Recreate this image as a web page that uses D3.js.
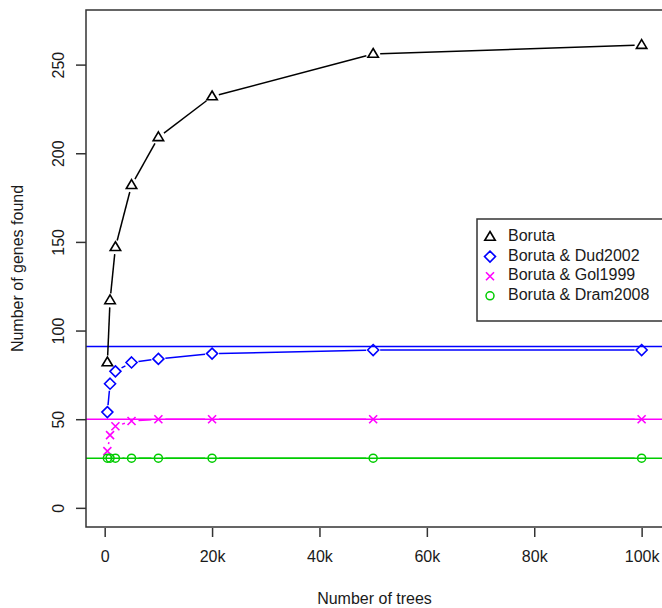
<!DOCTYPE html>
<html>
<head>
<meta charset="utf-8">
<script src="https://cdn.jsdelivr.net/npm/d3@7"></script>
<style>
  body { margin: 0; background: #fff; }
  text { font-family: "Liberation Sans", Arial, sans-serif; fill: #1a1a1a; }
</style>
</head>
<body>
<div id="chart"></div>
<script>
var width = 662;
var height = 608;

// number of trees used in each run
var trees = [500, 1000, 2000, 5000, 10000, 20000, 50000, 100000];

var boruta   = [82, 117, 147, 182, 209, 232, 256, 261];
var dud2002  = [54, 70, 77, 82, 84, 87, 89, 89];
var gol1999  = [32, 41, 46, 49, 50, 50, 50, 50];
var dram2008 = [28, 28, 28, 28, 28, 28, 28, 28];

// reference counts (abline)
var refLines = [91, 50, 28];

var xTicks = [0, 20000, 40000, 60000, 80000, 100000];
var xTickLabels = ["0", "20k", "40k", "60k", "80k", "100k"];
var yTicks = [0, 50, 100, 150, 200, 250];

var seriesNames = ["Boruta", "Boruta & Dud2002", "Boruta & Gol1999", "Boruta & Dram2008"];
var seriesColors = ["#000000", "#0000ff", "#ff00ff", "#00cc00"];
var seriesShapes = ["triangle", "diamond", "cross", "circle"];
var seriesValues = [boruta, dud2002, gol1999, dram2008];

var plot = { left: 86, right: 663, top: 10, bottom: 527 };

var x = d3.scaleLinear()
  .domain([500 - 0.04 * 99500, 100000 + 0.04 * 99500])
  .range([plot.left, plot.right]);

var y = d3.scaleLinear()
  .domain([-10.8, 280.8])
  .range([plot.bottom, plot.top]);

var svg = d3.select("#chart")
  .append("svg")
  .attr("width", width)
  .attr("height", height)
  .style("display", "block");

svg.append("defs").append("clipPath")
  .attr("id", "clip")
  .append("rect")
  .attr("x", plot.left)
  .attr("y", plot.top)
  .attr("width", plot.right - plot.left)
  .attr("height", plot.bottom - plot.top);

// draw a marker of a given shape
function marker(g, shape, cx, cy, color) {
  if (shape == "triangle") {
    var r = 5.5;
    g.append("path")
      .attr("d", `M${cx},${cy - r} L${cx + r * 0.95},${cy + r * 0.6} L${cx - r * 0.95},${cy + r * 0.6} Z`)
      .attr("fill", "none").attr("stroke", color).attr("stroke-width", 1.6);
  } else if (shape == "diamond") {
    var r = 5.5;
    g.append("path")
      .attr("d", `M${cx},${cy - r} L${cx + r},${cy} L${cx},${cy + r} L${cx - r},${cy} Z`)
      .attr("fill", "none").attr("stroke", color).attr("stroke-width", 1.6);
  } else if (shape == "cross") {
    var r = 4;
    g.append("path")
      .attr("d", `M${cx - r},${cy - r} L${cx + r},${cy + r} M${cx - r},${cy + r} L${cx + r},${cy - r}`)
      .attr("fill", "none").attr("stroke", color).attr("stroke-width", 1.6);
  } else {
    g.append("circle")
      .attr("cx", cx).attr("cy", cy).attr("r", 4)
      .attr("fill", "none").attr("stroke", color).attr("stroke-width", 1.5);
  }
}

var clipped = svg.append("g").attr("clip-path", "url(#clip)");

// horizontal reference lines
clipped.selectAll(".ref")
  .data(refLines)
  .enter()
  .append("line")
  .attr("class", "ref")
  .attr("x1", plot.left)
  .attr("x2", plot.right)
  .attr("y1", d => y(d))
  .attr("y2", d => y(d))
  .attr("stroke", (d, i) => seriesColors[i + 1])
  .attr("stroke-width", 1.5);

// type="b" style: segments with gaps around the points
var gap = 7;
seriesValues.forEach(function(vals, s) {
  var g = clipped.append("g");
  for (var i = 0; i < vals.length - 1; i++) {
    var x1 = x(trees[i]), y1 = y(vals[i]);
    var x2 = x(trees[i + 1]), y2 = y(vals[i + 1]);
    var len = Math.hypot(x2 - x1, y2 - y1);
    if (len <= 2 * gap) continue;
    var ux = (x2 - x1) / len, uy = (y2 - y1) / len;
    g.append("line")
      .attr("x1", x1 + ux * gap).attr("y1", y1 + uy * gap)
      .attr("x2", x2 - ux * gap).attr("y2", y2 - uy * gap)
      .attr("stroke", seriesColors[s])
      .attr("stroke-width", 1.5);
  }
  vals.forEach(function(v, i) {
    marker(g, seriesShapes[s], x(trees[i]), y(v), seriesColors[s]);
  });
});

// plot box
svg.append("rect")
  .attr("x", plot.left)
  .attr("y", plot.top)
  .attr("width", plot.right - plot.left)
  .attr("height", plot.bottom - plot.top)
  .attr("fill", "none")
  .attr("stroke", "#333")
  .attr("stroke-width", 1.5);

// x axis
var xAxis = svg.append("g")
  .attr("transform", `translate(0,${plot.bottom + 1})`)
  .call(d3.axisBottom(x).tickValues(xTicks).tickSize(9).tickPadding(14)
    .tickFormat((d, i) => xTickLabels[i]));
xAxis.select(".domain").remove();
xAxis.selectAll("line").attr("stroke", "#333").attr("stroke-width", 1.5);
xAxis.selectAll("text").style("font-size", "16px").attr("fill", "#1a1a1a");

// y axis, labels rotated like R's default las=0
var yAxis = svg.append("g")
  .attr("transform", `translate(${plot.left},0)`)
  .call(d3.axisLeft(y).tickValues(yTicks).tickSize(10).tickPadding(0));
yAxis.select(".domain").remove();
yAxis.selectAll("line").attr("stroke", "#333").attr("stroke-width", 1.5);
yAxis.selectAll("text")
  .style("font-size", "16px")
  .attr("fill", "#1a1a1a")
  .attr("x", null).attr("dy", null).attr("y", 0)
  .attr("text-anchor", "middle")
  .attr("dominant-baseline", "middle")
  .attr("transform", "translate(-26,0) rotate(-90)");

// axis titles
svg.append("text")
  .attr("x", (plot.left + plot.right) / 2)
  .attr("y", 604)
  .attr("text-anchor", "middle")
  .style("font-size", "16px")
  .text("Number of trees");

svg.append("text")
  .attr("transform", `translate(23,${(plot.top + plot.bottom) / 2}) rotate(-90)`)
  .attr("text-anchor", "middle")
  .style("font-size", "16px")
  .text("Number of genes found");

// legend
var legend = svg.append("g");
legend.append("rect")
  .attr("x", 477).attr("y", 219)
  .attr("width", 200).attr("height", 102)
  .attr("fill", "#fff")
  .attr("stroke", "#333")
  .attr("stroke-width", 1.5);

seriesNames.forEach(function(name, i) {
  var ly = 237 + i * 19.6;
  marker(legend, seriesShapes[i], 490, ly, seriesColors[i]);
  legend.append("text")
    .attr("x", 508)
    .attr("y", ly)
    .attr("dominant-baseline", "middle")
    .style("font-size", "16px")
    .text(name);
});
</script>
</body>
</html>
